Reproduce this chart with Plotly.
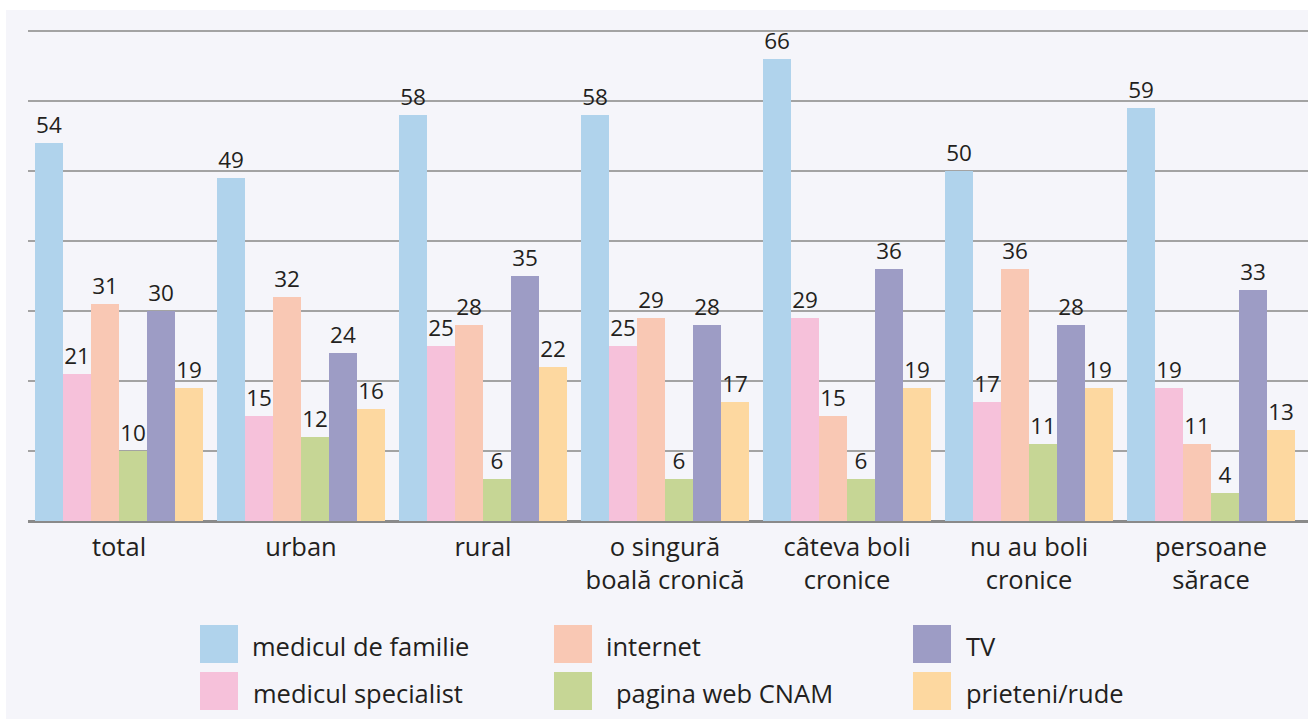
import plotly.graph_objects as go

categories = ["total", "urban", "rural", "o singură<br>boală cronică", "câteva boli<br>cronice",
              "nu au boli<br>cronice", "persoane<br>sărace"]
series_names = ["medicul de familie", "medicul specialist", "internet", "pagina web CNAM", "TV", "prieteni/rude"]
medicul_familie = [54, 49, 58, 58, 66, 50, 59]
medicul_specialist = [21, 15, 25, 25, 29, 17, 19]
internet = [31, 32, 28, 29, 15, 36, 11]
pagina_web = [10, 12, 6, 6, 6, 11, 4]
tv = [30, 24, 35, 28, 36, 28, 33]
prieteni = [19, 16, 22, 17, 19, 19, 13]
series_values = [medicul_familie, medicul_specialist, internet, pagina_web, tv, prieteni]
colors = ["#b0d3ec", "#f6c1da", "#f9c8b4", "#c6d695", "#9d9cc5", "#fdd8a0"]

W, H = 1308, 719
L, R, T, B = 28, 0, 24, 198
PW = W - L - R
PH = H - T - B
FONT = "Open Sans"
TXT = "#231f20"

fig = go.Figure()
for name, vals, col in zip(series_names, series_values, colors):
    fig.add_trace(go.Bar(
        x=categories, y=vals, name=name, marker=dict(color=col, line=dict(width=0)),
        text=[str(v) for v in vals], textposition="outside",
        textfont=dict(family=FONT, size=22.5, color=TXT),
        cliponaxis=False, showlegend=False,
    ))


def px(x):
    return (x - L) / PW


def py(y):
    return (H - B - y) / PH


shapes = [dict(type="rect", xref="paper", yref="paper", x0=px(6), x1=px(W + 5), y0=py(H + 5), y1=py(10),
               fillcolor="#f5f5fa", line=dict(width=0), layer="below")]
annotations = []
legend_pos = [(200, 250, 625), (200, 251, 672), (554, 604, 625), (554, 604, 672), (913, 964, 625), (913, 964, 672)]
for (sx, tx, sy), i in zip(legend_pos, range(6)):
    shapes.append(dict(type="rect", xref="paper", yref="paper", x0=px(sx), x1=px(sx + 38),
                       y0=py(sy + 38), y1=py(sy), fillcolor=colors[i], line=dict(width=0)))
    label = series_names[i]
    if i == 3:
        tx += 10
    annotations.append(dict(xref="paper", yref="paper", x=px(tx), y=py(sy + 21), text=label,
                            showarrow=False, xanchor="left", yanchor="middle",
                            font=dict(family=FONT, size=25.5, color=TXT)))

fig.update_layout(
    width=W, height=H, margin=dict(l=L, r=R, t=T, b=B),
    paper_bgcolor="white", plot_bgcolor="rgba(0,0,0,0)",
    barmode="group", bargap=14 / 182, bargroupgap=0,
    shapes=shapes, annotations=annotations,
    xaxis=dict(range=[-0.5, 6.5 + 6 / 182], tickfont=dict(family=FONT, size=25.5, color=TXT),
               showgrid=False, ticks="outside", ticklen=3, tickcolor="rgba(0,0,0,0)", showline=False),
    yaxis=dict(range=[0, 71], tickvals=[10, 20, 30, 40, 50, 60, 70], showticklabels=False,
               showgrid=True, gridcolor="#a3a3a3",
               gridwidth=1.5, zeroline=True, zerolinecolor="#8a8a8a", zerolinewidth=3, showline=False),
)

fig.write_html("out.html", config={"displayModeBar": False},
               post_script="document.body.style.margin='0';document.body.style.overflow='hidden';")
